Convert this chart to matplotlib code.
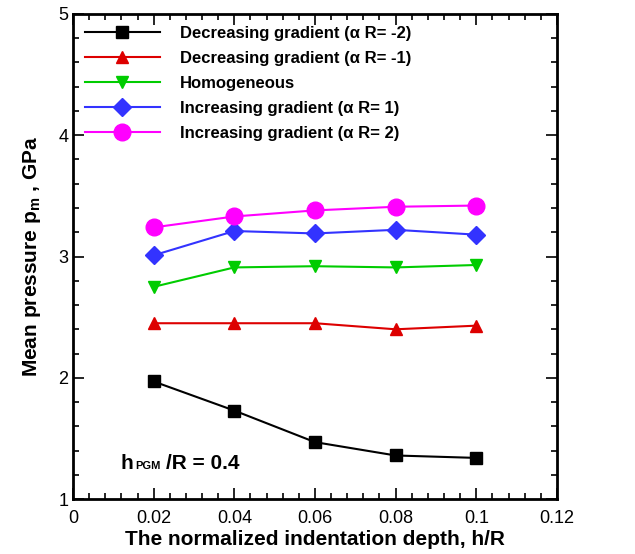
import matplotlib
matplotlib.use("Agg")
import matplotlib.pyplot as plt
from matplotlib.ticker import MultipleLocator

plt.rcParams["font.family"] = ["Liberation Sans", "DejaVu Sans"]
plt.rcParams["mathtext.fontset"] = "custom"
plt.rcParams["mathtext.rm"] = "Liberation Sans:bold"
plt.rcParams["mathtext.it"] = "Liberation Sans:bold"
plt.rcParams["mathtext.bf"] = "Liberation Sans:bold"

# data
depth = [0.02, 0.04, 0.06, 0.08, 0.1]
dec2 = [1.97, 1.73, 1.47, 1.36, 1.34]
dec1 = [2.45, 2.45, 2.45, 2.40, 2.43]
homog = [2.75, 2.91, 2.92, 2.91, 2.93]
inc1 = [3.01, 3.21, 3.19, 3.22, 3.18]
inc2 = [3.24, 3.33, 3.38, 3.41, 3.42]

labels = [
    "Decreasing gradient (\u03b1 R= -2)",
    "Decreasing gradient (\u03b1 R= -1)",
    "Homogeneous",
    "Increasing gradient (\u03b1 R= 1)",
    "Increasing gradient (\u03b1 R= 2)",
]
series = [dec2, dec1, homog, inc1, inc2]
colors = ["#000000", "#dd0000", "#00cc00", "#3333ff", "#ff00ff"]
markers = ["s", "^", "v", "D", "o"]
msizes = [8, 9, 9, 9, 12]

fig = plt.figure(figsize=(6.35, 5.54), dpi=100)
ax = fig.add_axes([0.115, 0.099, 0.762, 0.876])

for y, lab, c, m, ms in zip(series, labels, colors, markers, msizes):
    ax.plot(depth, y, color=c, marker=m, markersize=ms, lw=1.5, label=lab)

ax.set_xlim(0, 0.12)
ax.set_ylim(1, 5)
ax.xaxis.set_minor_locator(MultipleLocator(0.004))
ax.yaxis.set_major_locator(MultipleLocator(1))
ax.yaxis.set_minor_locator(MultipleLocator(0.2))
ax.set_xticks([0, 0.02, 0.04, 0.06, 0.08, 0.1, 0.12])
ax.set_xticklabels(["0", "0.02", "0.04", "0.06", "0.08", "0.1", "0.12"])
ax.tick_params(which="both", direction="in", top=True, right=True, labelsize=13, width=1.2)
ax.tick_params(which="major", length=8)
ax.tick_params(which="minor", length=4)
ax.tick_params(axis="x", pad=8)
for s in ax.spines.values():
    s.set_linewidth(2)

ax.set_xlabel("The normalized indentation depth, h/R", fontsize=15, fontweight="bold", labelpad=2)
ax.set_ylabel(r"Mean pressure p$_{\mathrm{m}}$ , GPa", fontsize=15, fontweight="bold", labelpad=11)

ax.text(0.0118, 1.25, "h", fontsize=15, fontweight="bold")
ax.text(0.0154, 1.25, "PGM", fontsize=8, fontweight="bold")
ax.text(0.0231, 1.25, "/R = 0.4", fontsize=15, fontweight="bold")

ax.legend(loc="upper left", frameon=False, prop={"weight": "bold", "size": 12},
          handlelength=4.5, borderaxespad=0.3, labelspacing=0.6, handletextpad=1.2)

fig.savefig("out.png", dpi=100)
